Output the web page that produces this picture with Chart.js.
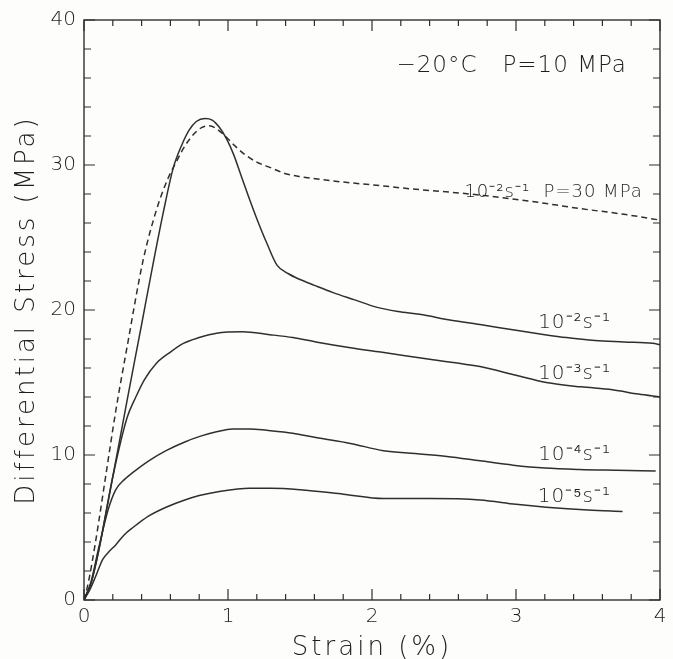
<!DOCTYPE html>
<html>
<head>
<meta charset="utf-8">
<script src="https://cdn.jsdelivr.net/npm/chart.js@4/dist/chart.umd.min.js"></script>
<style>
  html, body { margin: 0; padding: 0; background: #fdfdfb; }
  #wrap { width: 673px; height: 659px; position: relative; }
</style>
</head>
<body>
<div id="wrap"><canvas id="c" width="673" height="659"></canvas></div>
<script>
// ---- data (strain in %, differential stress in MPa) ----
const strain_2_P30 = [0, 0.03, 0.08, 0.15, 0.22, 0.3, 0.41, 0.5, 0.58, 0.64, 0.7, 0.76, 0.82, 0.87, 0.92, 0.98, 1.05, 1.12, 1.2, 1.3, 1.4, 1.5, 1.73, 2.03, 2.33, 2.68, 3.1, 3.44, 3.75, 4.0];
const stress_2_P30 = [0, 1.2, 4.0, 8.5, 13.0, 17.5, 23.4, 26.8, 29.0, 30.2, 31.3, 32.1, 32.6, 32.7, 32.5, 32.0, 31.3, 30.7, 30.2, 29.8, 29.4, 29.2, 28.9, 28.6, 28.3, 28.0, 27.5, 27.0, 26.6, 26.2];

const strain_2 = [0, 0.05, 0.1, 0.2, 0.3, 0.4, 0.48, 0.55, 0.62, 0.68, 0.73, 0.78, 0.84, 0.89, 0.94, 0.99, 1.04, 1.09, 1.14, 1.2, 1.27, 1.34, 1.42, 1.5, 1.6, 1.73, 1.88, 2.03, 2.18, 2.33, 2.55, 2.75, 3.0, 3.2, 3.35, 3.55, 3.75, 3.95, 4.0];
const stress_2 = [0, 1.2, 3.3, 8.5, 13.8, 19.0, 23.2, 26.7, 29.8, 31.4, 32.4, 33.0, 33.2, 33.1, 32.6, 31.8, 30.7, 29.3, 27.9, 26.3, 24.6, 23.1, 22.5, 22.1, 21.7, 21.2, 20.7, 20.2, 19.9, 19.7, 19.3, 19.0, 18.6, 18.3, 18.1, 17.9, 17.8, 17.7, 17.6];

const strain_3 = [0, 0.05, 0.1, 0.2, 0.3, 0.36, 0.42, 0.5, 0.6, 0.69, 0.8, 0.92, 1.1, 1.29, 1.45, 1.61, 1.85, 2.06, 2.4, 2.75, 3.0, 3.21, 3.45, 3.67, 3.85, 4.0];
const stress_3 = [0, 1.2, 3.3, 8.5, 12.6, 14.0, 15.2, 16.3, 17.1, 17.7, 18.1, 18.4, 18.5, 18.3, 18.1, 17.8, 17.4, 17.1, 16.6, 16.1, 15.5, 15.0, 14.7, 14.5, 14.2, 14.0];

const strain_4 = [0, 0.05, 0.1, 0.17, 0.22, 0.28, 0.34, 0.45, 0.57, 0.7, 0.81, 0.92, 1.03, 1.15, 1.27, 1.45, 1.61, 1.85, 2.08, 2.3, 2.52, 2.75, 2.98, 3.2, 3.44, 3.7, 3.97];
const stress_4 = [0, 1.3, 3.5, 6.3, 7.6, 8.3, 8.8, 9.6, 10.3, 10.9, 11.3, 11.6, 11.8, 11.8, 11.7, 11.5, 11.2, 10.8, 10.3, 10.1, 9.9, 9.6, 9.3, 9.1, 9.0, 8.95, 8.9];

const strain_5 = [0, 0.04, 0.08, 0.13, 0.17, 0.22, 0.28, 0.34, 0.45, 0.57, 0.7, 0.8, 0.95, 1.15, 1.3, 1.5, 1.8, 2.08, 2.4, 2.75, 3.0, 3.21, 3.5, 3.74];
const stress_5 = [0, 0.7, 1.6, 2.8, 3.3, 3.8, 4.5, 5.0, 5.8, 6.4, 6.9, 7.2, 7.5, 7.7, 7.7, 7.6, 7.3, 7.0, 7.0, 6.9, 6.6, 6.4, 6.2, 6.1];

const xTickValues = [0, 1, 2, 3, 4];
const yTickValues = [0, 10, 20, 30, 40];

// text annotations: [text, strain, stress, fontSize, align]
const annotationTexts = [
  ["\u221220\u00B0C   P=10 MPa", 2.97, 36.8, 23, "center"],
  ["10\u207B\u00B2s\u207B\u00B9  P=30 MPa", 3.88, 28.1, 18, "right"],
  ["10\u207B\u00B2s\u207B\u00B9", 3.66, 19.1, 20, "right"],
  ["10\u207B\u00B3s\u207B\u00B9", 3.66, 15.6, 20, "right"],
  ["10\u207B\u2074s\u207B\u00B9", 3.66, 10.0, 20, "right"],
  ["10\u207B\u2075s\u207B\u00B9", 3.66, 7.1, 20, "right"]
];

const pairs = (xs, ys) => xs.map((x, i) => ({x: x, y: ys[i]}));
const INK = '#2f2f2f';
const TEXT = '#1e1e1e';
const FONT = "'DejaVu Sans', sans-serif";

const frameTicks = {
  id: 'frameTicks',
  afterLayout(chart) {
    Object.values(chart.scales).forEach(s => {
      if (s._spaced) return;
      const orig = s.drawTitle.bind(s);
      s.drawTitle = function () {
        const c = this.ctx; const prev = c.letterSpacing;
        c.letterSpacing = '3px'; orig(); c.letterSpacing = prev || '0px';
      };
      s._spaced = true;
    });
  },
  afterDraw(chart) {
    const {ctx, chartArea: a, scales: {x, y}} = chart;
    ctx.save();
    ctx.strokeStyle = INK;
    ctx.lineWidth = 1.4;
    ctx.strokeRect(a.left, a.top, a.right - a.left, a.bottom - a.top);
    ctx.lineWidth = 1.2;
    ctx.beginPath();
    for (let i = 0; i <= 20; i++) {
      const v = i * 0.2;
      const px = x.getPixelForValue(v);
      const len = (i % 5 === 0) ? 11 : 6;
      ctx.moveTo(px, a.bottom); ctx.lineTo(px, a.bottom - len);
      ctx.moveTo(px, a.top); ctx.lineTo(px, a.top + len);
    }
    for (let i = 0; i <= 20; i++) {
      const v = i * 2;
      const py = y.getPixelForValue(v);
      const len = (i % 5 === 0) ? 11 : 7;
      ctx.moveTo(a.left, py); ctx.lineTo(a.left + len, py);
      ctx.moveTo(a.right, py); ctx.lineTo(a.right - len, py);
    }
    ctx.stroke();
    // annotations
    ctx.fillStyle = TEXT;
    ctx.textBaseline = 'middle';
    ctx.letterSpacing = '1px';
    annotationTexts.forEach(([t, sx, sy, fs, al]) => {
      ctx.font = "300 " + fs + "px " + FONT;
      ctx.textAlign = al;
      ctx.fillText(t, x.getPixelForValue(sx), y.getPixelForValue(sy));
    });
    ctx.restore();
  }
};

const solid = (xs, ys) => ({
  data: pairs(xs, ys), showLine: true, borderColor: INK, borderWidth: 1.5,
  pointRadius: 0, cubicInterpolationMode: 'monotone', fill: false
});

new Chart(document.getElementById('c'), {
  type: 'scatter',
  data: {
    datasets: [
      Object.assign(solid(strain_2_P30, stress_2_P30), {borderDash: [6, 4]}),
      solid(strain_2, stress_2),
      solid(strain_3, stress_3),
      solid(strain_4, stress_4),
      solid(strain_5, stress_5)
    ]
  },
  options: {
    responsive: false,
    animation: false,
    layout: { padding: { top: 20, right: 13, left: 0, bottom: 0 } },
    plugins: { legend: { display: false }, tooltip: { enabled: false } },
    scales: {
      x: {
        type: 'linear', min: 0, max: 4,
        afterBuildTicks: s => { s.ticks = xTickValues.map(v => ({value: v})); },
        afterFit: s => { s.height = 59; },
        grid: { display: false, drawTicks: false },
        border: { display: false },
        ticks: { color: TEXT, font: { family: FONT, size: 20, weight: 300 }, padding: 5 },
        title: { display: true, text: 'Strain (%)', color: TEXT,
                 font: { family: FONT, size: 26, weight: 300, lineHeight: 0.8 }, padding: { top: 0, bottom: 0 } }
      },
      y: {
        type: 'linear', min: 0, max: 40,
        afterBuildTicks: s => { s.ticks = yTickValues.map(v => ({value: v})); },
        afterFit: s => { s.width = 84; },
        grid: { display: false, drawTicks: false },
        border: { display: false },
        ticks: { color: TEXT, font: { family: FONT, size: 20, weight: 300 }, padding: 8 },
        title: { display: true, text: 'Differential Stress (MPa)', color: TEXT,
                 font: { family: FONT, size: 26, weight: 300, lineHeight: 1.2 }, padding: { top: 12, bottom: 0 } }
      }
    }
  },
  plugins: [frameTicks]
});
</script>
</body>
</html>
